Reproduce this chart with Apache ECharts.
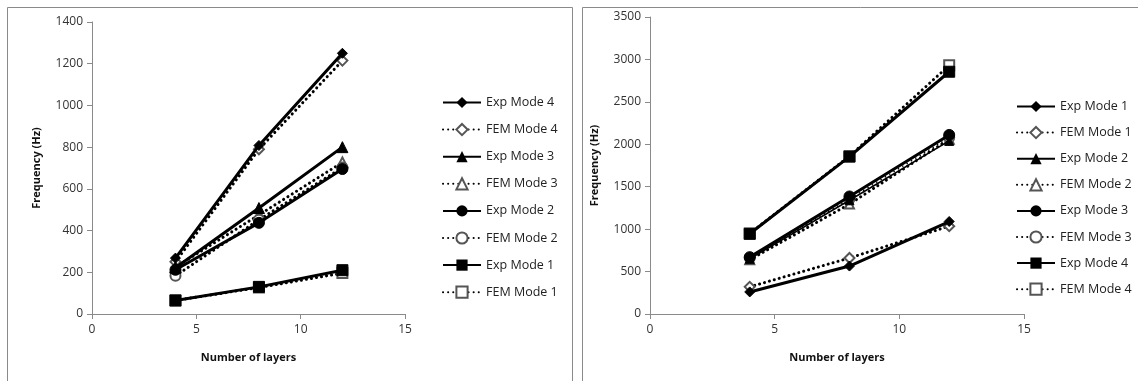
<!DOCTYPE html>
<html><head><meta charset="utf-8">
<script src="https://cdn.jsdelivr.net/npm/echarts@6/dist/echarts.min.js"></script>
<style>html,body{margin:0;padding:0;background:#fff}#c{width:1138px;height:381px}</style>
</head><body><div id="c"></div>
<script>
const layers = [4, 8, 12];
const xTicks = [0, 5, 10, 15];
// Left chart
const expMode4L = [268, 808, 1250];
const femMode4L = [250, 790, 1215];
const expMode3L = [222, 508, 800];
const femMode3L = [225, 475, 727];
const expMode2L = [212, 437, 695];
const femMode2L = [183, 452, 702];
const expMode1L = [65, 130, 210];
const femMode1L = [65, 127, 196];
// Right chart
const expMode1R = [260, 565, 1090];
const femMode1R = [320, 660, 1035];
const expMode2R = [650, 1340, 2040];
const femMode2R = [640, 1295, 2060];
const expMode3R = [670, 1385, 2110];
const femMode3R = [660, 1355, 2080];
const expMode4R = [945, 1855, 2855];
const femMode4R = [950, 1860, 2930];

const FONT = 'Open Sans';
const pts = arr => arr.map((v, i) => [layers[i], v]);
const dotted = [0.1, 5];

function exp(name, data, sym, size, g, lw) {
  return { name, type: 'line', xAxisIndex: g, yAxisIndex: g, data: pts(data),
    symbol: sym, symbolSize: size, z: 3,
    lineStyle: { color: '#000', width: lw || 3 },
    itemStyle: { color: '#000', borderColor: '#000' } };
}
function fem(name, data, sym, size, g, lw) {
  return { name, type: 'line', xAxisIndex: g, yAxisIndex: g, data: pts(data),
    symbol: sym, symbolSize: size, z: 2,
    lineStyle: { color: '#000', width: lw || 3, type: dotted, cap: 'round' },
    itemStyle: { color: '#555', borderColor: '#555', borderWidth: 1 } };
}

const axisLine = { show: true, lineStyle: { color: '#8a8a8a', width: 1 } };
const axisTick = { show: true, length: 5, lineStyle: { color: '#8a8a8a' } };
const lab = { color: '#333', fontFamily: FONT, fontSize: 12, formatter: v => String(v) };
const nameStyle = { color: '#111', fontFamily: FONT, fontSize: 11, fontWeight: 'bold' };

function xAxis(g) {
  return { type: 'value', gridIndex: g, min: 0, max: 15, interval: 5,
    axisLine, axisTick, splitLine: { show: false }, axisLabel: { ...lab, margin: 10 },
    name: 'Number of layers', nameLocation: 'middle', nameGap: 38, nameTextStyle: nameStyle };
}
function yAxis(g, max, iv) {
  return { type: 'value', gridIndex: g, min: 0, max, interval: iv,
    axisLine, axisTick, splitLine: { show: false }, axisLabel: { ...lab, margin: 9 },
    name: 'Frequency (Hz)', nameLocation: 'middle', nameGap: 50, nameTextStyle: nameStyle };
}
const legendBase = { orient: 'vertical', itemWidth: 38, itemHeight: 14, itemGap: 14,
  textStyle: { fontFamily: FONT, fontSize: 12.5, color: '#222' },
  formatter: n => n.replace(/^[LR]:/, ''), selectedMode: false };

const chart = echarts.init(document.getElementById('c'), null, { renderer: 'canvas' });
chart.setOption({
  animation: false,
  backgroundColor: '#fff',
  graphic: [
    { type: 'rect', shape: { x: 7.5, y: 7.5, width: 565, height: 420 }, style: { fill: 'none', stroke: '#8a8a8a', lineWidth: 1 }, silent: true },
    { type: 'rect', shape: { x: 582.5, y: 7.5, width: 600, height: 420 }, style: { fill: 'none', stroke: '#8a8a8a', lineWidth: 1 }, silent: true }
  ],
  grid: [
    { left: 92, top: 22, width: 313, height: 292 },
    { left: 650, top: 17, width: 374, height: 297 }
  ],
  xAxis: [xAxis(0), xAxis(1)],
  yAxis: [yAxis(0, 1400, 200), yAxis(1, 3500, 500)],
  legend: [
    { ...legendBase, left: 437, top: 91,
      data: ['L:Exp Mode 4', 'L:FEM Mode 4', 'L:Exp Mode 3', 'L:FEM Mode 3', 'L:Exp Mode 2', 'L:FEM Mode 2', 'L:Exp Mode 1', 'L:FEM Mode 1'] },
    { ...legendBase, left: 1011, top: 95, itemGap: 13,
      data: ['R:Exp Mode 1', 'R:FEM Mode 1', 'R:Exp Mode 2', 'R:FEM Mode 2', 'R:Exp Mode 3', 'R:FEM Mode 3', 'R:Exp Mode 4', 'R:FEM Mode 4'] }
  ],
  series: [
    exp('L:Exp Mode 4', expMode4L, 'diamond', 10, 0),
    fem('L:FEM Mode 4', femMode4L, 'emptyDiamond', 10, 0),
    exp('L:Exp Mode 3', expMode3L, 'triangle', 11, 0),
    fem('L:FEM Mode 3', femMode3L, 'emptyTriangle', 10, 0),
    exp('L:Exp Mode 2', expMode2L, 'circle', 11, 0),
    fem('L:FEM Mode 2', femMode2L, 'emptyCircle', 10, 0),
    exp('L:Exp Mode 1', expMode1L, 'rect', 11, 0),
    fem('L:FEM Mode 1', femMode1L, 'emptyRect', 10, 0),
    exp('R:Exp Mode 1', expMode1R, 'diamond', 10, 1),
    fem('R:FEM Mode 1', femMode1R, 'emptyDiamond', 10, 1),
    exp('R:Exp Mode 2', expMode2R, 'triangle', 9, 1, 1.6),
    fem('R:FEM Mode 2', femMode2R, 'emptyTriangle', 9, 1),
    exp('R:Exp Mode 3', expMode3R, 'circle', 11, 1),
    fem('R:FEM Mode 3', femMode3R, 'emptyCircle', 10, 1, 1.6),
    exp('R:Exp Mode 4', expMode4R, 'rect', 11, 1),
    fem('R:FEM Mode 4', femMode4R, 'emptyRect', 10, 1)
  ]
});
</script>
</body></html>
